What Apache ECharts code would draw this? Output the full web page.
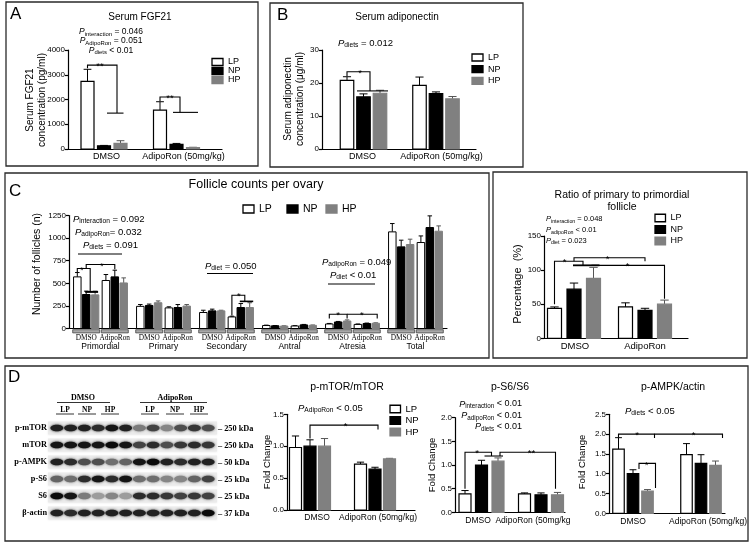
<!DOCTYPE html>
<html><head><meta charset="utf-8">
<script src="https://cdn.jsdelivr.net/npm/echarts@6/dist/echarts.min.js"></script>
<style>html,body{margin:0;padding:0;background:#fff}#c{width:750px;height:543px}</style>
</head><body><div id="c"></div>
<script>
// ================= DATA =================
const diets = ['LP', 'NP', 'HP'];
const treatCats = ['DMSO', 'AdipoRon (50mg/kg)'];
const treatCatsS6 = ['DMSO', 'AdipoRon (50mg/kg'];
const ratioCats = ['DMSO', 'AdipoRon'];
const follicleCats = ['Primordial', 'Primary', 'Secondary', 'Antral', 'Atresia', 'Total'];
const follicleSub = ['DMSO', 'AdipoRon'];

// tick labels
const fgfTicks = [0, 1000, 2000, 3000, 4000];
const adipoTicks = [0, 10, 20, 30];
const follTicks = [0, 250, 500, 750, 1000, 1250];
const ratioTicks = [0, 50, 100, 150];
const mtorTicks = [0, 0.5, 1.0, 1.5];
const s6Ticks = [0, 0.5, 1.0, 1.5, 2.0];
const ampkTicks = [0, 0.5, 1.0, 1.5, 2.0, 2.5];

// Panel A: serum FGF21 (pg/ml)
const fgf21LP = [2730, 1570], fgf21LPErr = [490, 340];
const fgf21NP = [130, 185], fgf21NPErr = [15, 40];
const fgf21HP = [225, 60], fgf21HPErr = [110, 10];
// Panel B: serum adiponectin (ug/ml)
const adipoLP = [20.8, 19.3], adipoLPErr = [1.1, 2.5];
const adipoNP = [15.8, 16.8], adipoNPErr = [0.9, 0.5];
const adipoHP = [16.9, 15.2], adipoHPErr = [0.9, 0.7];
// Panel C: follicle counts (6 classes x DMSO / AdipoRon)
const follLP = [571, 531, 245, 228, 177, 128, 33, 28, 50, 45, 1069, 951];
const follLPErr = [48, 66, 20, 12, 25, 8, 4, 3, 6, 5, 92, 73];
const follNP = [376, 571, 255, 232, 195, 232, 30, 40, 72, 55, 903, 1117];
const follNPErr = [37, 74, 15, 33, 19, 44, 3, 5, 6, 5, 74, 129];
const follHP = [372, 504, 285, 248, 195, 232, 27, 35, 83, 58, 929, 1076];
const follHPErr = [41, 56, 20, 17, 7, 53, 3, 4, 12, 5, 59, 59];
// Panel C: ratio primary / primordial (%)
const ratioLP = [44, 46], ratioLPErr = [2, 6];
const ratioNP = [72, 41], ratioNPErr = [9, 3];
const ratioHP = [88, 50], ratioHPErr = [16, 6];
// Panel D: fold changes
const mtorLP = [0.98, 0.72], mtorLPErr = [0.18, 0.03];
const mtorNP = [1.00, 0.64], mtorNPErr = [0.10, 0.03];
const mtorHP = [1.00, 0.80], mtorHPErr = [0.12, 0.01];
const s6LP = [0.39, 0.39], s6LPErr = [0.07, 0.02];
const s6NP = [1.00, 0.37], s6NPErr = [0.10, 0.04];
const s6HP = [1.08, 0.37], s6HPErr = [0.07, 0.05];
const ampkLP = [1.62, 1.48], ampkLPErr = [0.29, 0.28];
const ampkNP = [1.00, 1.26], ampkNPErr = [0.10, 0.22];
const ampkHP = [0.56, 1.21], ampkHPErr = [0.04, 0.11];

// Western blot (band darkness 0..1, 12 lanes)
const blotRows = ['p-mTOR', 'mTOR', 'p-AMPK', 'p-S6', 'S6', 'β-actin'];
const blotKDa = ['250 kDa', '250 kDa', '50 kDa', '25 kDa', '25 kDa', '37 kDa'];
const blotLanes = ['1', '2', '3', '4', '5', '6', '7', '8', '9', '10', '11', '12'];
const pmtorBand = [0.9, 0.9, 0.9, 0.85, 0.95, 0.9, 0.5, 0.75, 0.45, 0.7, 0.8, 0.7];
const mtorBand = [0.95, 0.95, 0.95, 0.95, 1, 0.95, 0.75, 0.85, 0.7, 0.8, 0.85, 0.8];
const pampkBand = [0.9, 0.85, 0.7, 0.7, 0.55, 0.6, 0.95, 1, 0.9, 0.85, 0.9, 0.9];
const ps6Band = [0.6, 0.55, 0.85, 0.95, 0.85, 0.95, 0.55, 0.55, 0.45, 0.45, 0.6, 0.75];
const s6Band = [1, 0.95, 0.5, 0.35, 0.45, 0.35, 0.85, 0.85, 0.8, 0.75, 0.8, 0.75];
const actinBand = [0.9, 0.85, 0.9, 0.9, 0.9, 0.9, 0.9, 0.9, 0.9, 0.9, 0.9, 1];

// ================= STYLE / LAYOUT =================
const F = '"Liberation Sans", Arial, Helvetica, sans-serif';
const SF = '"Liberation Serif", "Times New Roman", serif';
const FILL = ['#ffffff', '#000000', '#808080'];
const STROKE = ['#000000', '#000000', '#808080'];
const ERRC = ['#000000', '#000000', '#555555'];

const charts = [
  { rect: [68, 50, 154, 99], cats: treatCats, ticks: fgfTicks, step: 16.5, w: 13, shift: [-2.5, -7], lab: [0, 0], labM: 3, fs: 9,
    vals: [[fgf21LP, fgf21LPErr], [fgf21NP, fgf21NPErr], [fgf21HP, fgf21HPErr]],
    lines: [
      { p: [[0,0,0,0,3260],[0,0,0,0,3390],[0,0,2,-3.5,3390],[0,0,2,-3.5,1450]] },
      { p: [[0,0,1,3,1450],[0,0,2,3,1450]] },
      { p: [[1,0,0,0,1940],[1,0,0,0,2100],[1,0,1,3.5,2100],[1,0,1,3.5,1480]] },
      { p: [[1,0,1,-3.5,1480],[1,0,2,5,1480]] }],
    stars: [[[0,0,1,-4,3390], '**'], [[1,0,0,10,2100], '**']] },
  { rect: [322, 50, 154, 99], cats: treatCats, ticks: adipoTicks, step: 16.5, w: 13.5, shift: [3, -1.5], lab: [2, 4], labM: 3, fs: 9,
    vals: [[adipoLP, adipoLPErr], [adipoNP, adipoNPErr], [adipoHP, adipoHPErr]],
    lines: [
      { p: [[0,0,0,0,22.1],[0,0,0,0,23.4],[0,0,1,6.5,23.4],[0,0,1,6.5,17.6]] },
      { p: [[0,0,1,-6.5,17.6],[0,0,2,8,17.6]] }],
    stars: [[[0,0,0,13,23.4], '*']] },
  { rect: [69, 215.5, 378, 113], cats: follicleCats, ticks: follTicks, step: 8.9, w: 7.5, sub: 14.3, shift: [0,0,0,0,0,0], lab: [0,0,0,0,0,0], labM: 14, fs: 8.5,
    vals: [[follLP, follLPErr], [follNP, follNPErr], [follHP, follHPErr]],
    lines: [
      { p: [[0,0,0,0,625],[0,0,0,0,664],[0,0,1,4,664],[0,0,1,4,405]] },
      { p: [[0,0,1,-1,405],[0,0,2,3,405]], lw: 2 },
      { p: [[0,0,1,0,664],[0,0,1,0,708],[0,1,1,0,708],[0,1,1,0,655]] },
      { p: [[2,1,0,0,145],[2,1,0,0,368],[2,1,1,4,368],[2,1,1,4,300]] },
      { p: [[2,1,1,-1,300],[2,1,2,3.5,300]], lw: 1.6 },
      { p: [[4,0,0,0,110],[4,0,0,0,158],[4,0,2,0,158],[4,0,2,0,110]] },
      { p: [[4,0,2,0,158],[4,1,2,1.5,158],[4,1,2,1.5,110]] }],
    stars: [[[0,0,0,4.5,664], '*'], [[0,1,0,-4,708], '*'], [[2,1,1,-2,368], '*'], [[4,0,1,0,158], '*'], [[4,1,0,4,158], '*']] },
  { rect: [544, 236, 144, 102.3], cats: ratioCats, ticks: ratioTicks, step: 19.5, w: 14, shift: [-6, -7], lab: [-5, -7], labM: 3.5, fs: 9.5,
    vals: [[ratioLP, ratioLPErr], [ratioNP, ratioNPErr], [ratioHP, ratioHPErr]],
    lines: [
      { p: [[0,0,0,0,50],[0,0,0,0,113],[0,0,1,9,113],[0,0,1,9,107]] },
      { p: [[0,0,1,-1,107],[0,0,2,6,107]], lw: 1.8 },
      { p: [[0,0,1,0,113],[0,0,1,0,118],[1,0,1,0,118],[1,0,1,0,113]] },
      { p: [[0,0,2,-2,107],[1,0,2,0,107],[1,0,2,0,58]] }],
    stars: [[[0,0,0,10,113], '*'], [[0,0,2,14,118], '*'], [[1,0,0,2,107], '*']] },
  { rect: [287, 414.3, 128, 95.7], cats: treatCats, ticks: mtorTicks, dec: 1, step: 14.5, w: 12, shift: [-9, -8], lab: [-2, -5], labM: 3, fs: 8.5,
    vals: [[mtorLP, mtorLPErr], [mtorNP, mtorNPErr], [mtorHP, mtorHPErr]],
    lines: [{ p: [[0,0,1,0,1.12],[0,0,1,0,1.33],[1,0,1,3,1.33],[1,0,1,3,1.26]] }],
    stars: [[[0,0,2,21,1.33], '*']] },
  { rect: [455, 417.7, 110, 94.6], cats: treatCatsS6, ticks: s6Ticks, dec: 1, step: 16.5, w: 12, shift: [-1, 3.5], lab: [-4.5, -4.5], labM: 4, fs: 8.5,
    vals: [[s6LP, s6LPErr], [s6NP, s6NPErr], [s6HP, s6HPErr]],
    lines: [
      { p: [[0,0,0,0,0.5],[0,0,0,0,1.27],[0,0,1,10,1.27],[0,0,1,10,1.19]] },
      { p: [[0,0,1,3,1.19],[0,0,2,5,1.19]] },
      { p: [[0,0,2,2,1.19],[0,0,2,2,1.27],[1,0,2,-2,1.27],[1,0,2,-2,0.5]] }],
    stars: [[[0,0,0,12,1.27], '*'], [[1,0,0,7,1.27], '**']] },
  { rect: [609, 414.3, 116, 99], cats: treatCats, ticks: ampkTicks, dec: 1, step: 14.5, w: 11.5, shift: [-5, 5], lab: [-5, 12], labM: 4, fs: 8.5,
    vals: [[ampkLP, ampkLPErr], [ampkNP, ampkNPErr], [ampkHP, ampkHPErr]],
    lines: [
      { p: [[0,0,0,0,1.92],[0,0,0,0,2.0],[0,0,2,7,2.0],[0,0,2,7,1.9]] },
      { p: [[0,0,2,7,2.0],[1,0,2,7,2.0],[1,0,2,7,1.9]] },
      { p: [[0,0,1,6,1.12],[0,0,1,6,1.26],[0,0,2,8,1.26],[0,0,2,8,0.64]] }],
    stars: [[[0,0,1,4,2.0], '*'], [[1,0,0,7,2.0], '*'], [[0,0,2,-1,1.26], '*']] }
];

// ================= HELPERS =================
function barX(api, c, k, s, i) {
  const base = api.coord([k, 0])[0];
  return base + c.shift[k] + (c.sub ? (s ? c.sub : -c.sub) : 0) + (i - 1) * c.step;
}
function seg(x1, y1, x2, y2, col, lw) {
  return { type: 'line', shape: { x1, y1, x2, y2 }, style: { stroke: col, lineWidth: lw } };
}
function makeBarRender(c, i) {
  return function (params, api) {
    const k = api.value(0), v = api.value(1), e = api.value(2);
    const s = c.sub ? api.value(3) : 0;
    const cx = barX(api, c, k, s, i);
    const y0 = api.coord([k, 0])[1], y1 = api.coord([k, v])[1], ye = api.coord([k, v + e])[1];
    const cap = c.w * 0.3;
    const ch = [];
    if (e > 0) {
      ch.push(seg(cx, y1, cx, ye, ERRC[i], 1));
      ch.push(seg(cx - cap, ye, cx + cap, ye, ERRC[i], 1));
    }
    ch.push({ type: 'rect', shape: { x: cx - c.w / 2, y: y1, width: c.w, height: y0 - y1 },
      style: { fill: FILL[i], stroke: STROKE[i], lineWidth: c.sub ? 1 : 1.2 } });
    return { type: 'group', children: ch };
  };
}
function makeAnnotRender(c) {
  return function (params, api) {
    const pt = (p) => [barX(api, c, p[0], p[1], p[2]) + p[3], api.coord([p[0], p[4]])[1]];
    const ch = [];
    c.lines.forEach(l => ch.push({ type: 'polyline', shape: { points: l.p.map(pt) },
      style: { stroke: '#000', lineWidth: l.lw || 1.1, fill: null } }));
    c.stars.forEach(st => {
      const q = pt(st[0]);
      ch.push({ type: 'text', x: q[0], y: q[1] + 1.5,
        style: { text: st[1], fontSize: 9.5, fontFamily: F, fill: '#000', align: 'center', textAlign: 'center', verticalAlign: 'middle', textVerticalAlign: 'middle' } });
    });
    return { type: 'group', children: ch };
  };
}
function txt(x, y, text, size, o) {
  o = o || {};
  return { type: 'text', x, y, rotation: o.rot || 0, z: 10,
    style: { text, fontSize: size, fontFamily: o.font || F, fontWeight: o.bold ? 'bold' : 'normal', fill: '#000',
      align: o.align || 'left', textAlign: o.align || 'left', verticalAlign: 'middle', textVerticalAlign: 'middle' } };
}
function ptxt(x, y, sub, rest, size, align) {
  return { type: 'text', x, y, z: 10,
    style: { text: '{p|P}{s|' + sub + '}{t|' + rest + '}', fontFamily: F, fill: '#000',
      align: align || 'left', textAlign: align || 'left', verticalAlign: 'middle', textVerticalAlign: 'middle',
      rich: {
        p: { fontSize: size, fontStyle: 'italic', fontFamily: F, fill: '#000', lineHeight: size + 2, verticalAlign: 'middle' },
        s: { fontSize: size * 0.7, fontFamily: F, fill: '#000', lineHeight: size * 0.7, verticalAlign: 'bottom' },
        t: { fontSize: size, fontFamily: F, fill: '#000', lineHeight: size + 2, verticalAlign: 'middle' } } } };
}
function hline(x1, x2, y, lw) { return { type: 'line', z: 10, shape: { x1, y1: y, x2, y2: y }, style: { stroke: '#000', lineWidth: lw || 1 } }; }
function frame(x1, y1, x2, y2) {
  return { type: 'rect', z: 1, shape: { x: x1, y: y1, width: x2 - x1, height: y2 - y1 }, style: { fill: 'none', stroke: '#2a2a2a', lineWidth: 1.3 } };
}
function legend(x, y0, dy, w, h, fs, horizontal) {
  const out = [];
  diets.forEach((d, i) => {
    const lx = horizontal ? x[i] : x, ly = horizontal ? y0 : y0 + i * dy;
    out.push({ type: 'rect', z: 10, shape: { x: lx, y: ly - h / 2, width: w, height: h },
      style: { fill: FILL[i], stroke: STROKE[i], lineWidth: 1.3 } });
    out.push(txt(lx + w + 5, ly, d, fs));
  });
  return out;
}

// ================= OPTION =================
const option = { animation: false, backgroundColor: '#ffffff', grid: [], xAxis: [], yAxis: [], series: [], graphic: { elements: [] } };
const axisLS = { color: '#000', width: 1.2 };

charts.forEach((c, gi) => {
  option.grid.push({ left: c.rect[0], top: c.rect[1], width: c.rect[2], height: c.rect[3], containLabel: false });
  const rich = {};
  c.lab.forEach((s, idx) => {
    rich['c' + idx] = { fontSize: c.fs, fontFamily: F, color: '#000', padding: s >= 0 ? [0, 0, 0, 2 * s] : [0, -2 * s, 0, 0] };
  });
  option.xAxis.push({ type: 'category', gridIndex: gi, data: c.cats, boundaryGap: true,
    axisLine: { show: true, onZero: false, lineStyle: axisLS }, axisTick: { show: false }, splitLine: { show: false },
    axisLabel: { interval: 0, margin: c.labM, fontSize: c.fs, fontFamily: F, color: '#000',
      formatter: (v, idx) => '{c' + idx + '|' + v + '}', rich } });
  const t = c.ticks;
  option.yAxis.push({ type: 'value', gridIndex: gi, min: t[0], max: t[t.length - 1], interval: t[1] - t[0],
    axisLine: { show: true, lineStyle: axisLS }, axisTick: { show: true, length: 3, lineStyle: axisLS },
    splitLine: { show: false },
    axisLabel: { fontSize: 8, fontFamily: F, color: '#000', margin: 3,
      formatter: c.dec ? (v => v.toFixed(c.dec)) : (v => String(v)) } });
  c.vals.forEach((pair, i) => {
    const vals = pair[0], errs = pair[1];
    const data = vals.map((v, j) => c.sub ? [Math.floor(j / 2), v, errs[j], j % 2] : [j, v, errs[j]]);
    option.series.push({ type: 'custom', name: diets[i], xAxisIndex: gi, yAxisIndex: gi, clip: false,
      renderItem: makeBarRender(c, i), data, encode: { x: 0, y: 1 }, silent: true });
  });
  option.series.push({ type: 'custom', xAxisIndex: gi, yAxisIndex: gi, clip: false, silent: true, z: 5,
    renderItem: makeAnnotRender(c), data: [[0, 0]], encode: { x: 0, y: 1 } });
  if (c.sub) {
    const subData = [];
    c.cats.forEach((_, g) => { subData.push([g, 0, 0], [g, 0, 1]); });
    option.series.push({ type: 'custom', xAxisIndex: gi, yAxisIndex: gi, clip: false, silent: true,
      data: subData, encode: { x: 0, y: 1 },
      renderItem: function (params, api) {
        const g = api.value(0), s = api.value(2);
        const cx = barX(api, c, g, s, 1), y0 = api.coord([g, 0])[1];
        return { type: 'group', children: [
          { type: 'rect', shape: { x: cx - 13.5, y: y0 + 1.2, width: 27, height: 3.2 }, style: { fill: '#a8a8a8', stroke: '#333', lineWidth: 0.7 } },
          { type: 'text', x: cx, y: y0 + 10, style: { text: follicleSub[s], fontSize: 7.3, fontFamily: SF, fill: '#000',
            align: 'center', textAlign: 'center', verticalAlign: 'middle', textVerticalAlign: 'middle' } }] };
      } });
  }
});

// Western blot grid
const blotGi = charts.length;
const blotRect = [50, 419.5, 165, 102];
option.grid.push({ left: blotRect[0], top: blotRect[1], width: blotRect[2], height: blotRect[3] });
option.xAxis.push({ type: 'category', gridIndex: blotGi, data: blotLanes, show: false });
option.yAxis.push({ type: 'category', gridIndex: blotGi, data: blotRows, inverse: true, show: false });
const bandRows = [pmtorBand, mtorBand, pampkBand, ps6Band, s6Band, actinBand];
option.series.push({ type: 'custom', xAxisIndex: blotGi, yAxisIndex: blotGi, silent: true, clip: false,
  data: blotRows.map((_, r) => [0, r]), encode: { x: 0, y: 1 },
  renderItem: function (params, api) {
    const r = api.value(1), p = api.coord([0, r]), bw = api.size([1, 1])[0];
    return { type: 'rect', shape: { x: p[0] - bw / 2 - 2, y: p[1] - 6.5, width: bw * blotLanes.length + 4, height: 13 },
      style: { fill: '#ebebeb', shadowBlur: 2, shadowColor: '#ebebeb' } };
  } });
const bandData = [];
bandRows.forEach((row, r) => row.forEach((v, l) => bandData.push([l, r, v])));
option.series.push({ type: 'custom', xAxisIndex: blotGi, yAxisIndex: blotGi, silent: true, clip: false,
  data: bandData, encode: { x: 0, y: 1 },
  renderItem: function (params, api) {
    const p = api.coord([api.value(0), api.value(1)]), v = api.value(2), bw = api.size([1, 1])[0];
    const g = Math.round(235 - 225 * v), col = 'rgb(' + g + ',' + g + ',' + g + ')';
    return { type: 'ellipse', shape: { cx: p[0], cy: p[1], rx: bw * 0.47, ry: 3.2 },
      style: { fill: col, shadowBlur: 2.5, shadowColor: col } };
  } });

// ================= TEXT / FRAMES =================
const G = option.graphic.elements;
G.push(frame(6, 2, 258, 166), frame(270, 3, 523, 167), frame(5, 173, 489, 358), frame(493, 172, 747, 358), frame(5, 366, 748, 541));
// Panel labels
G.push(txt(10, 14, 'A', 17), txt(277, 15, 'B', 17), txt(9, 191, 'C', 17), txt(8, 377, 'D', 17));
// A
G.push(txt(140, 17, 'Serum FGF21', 10, { align: 'center' }));
G.push(ptxt(111, 32, 'interaction', ' = 0.046', 8.5, 'center'), ptxt(111, 41, 'AdipoRon', ' = 0.051', 8.5, 'center'), ptxt(111, 50.5, 'diets', ' < 0.01', 8.5, 'center'));
G.push(txt(30, 100, 'Serum FGF21', 10, { align: 'center', rot: Math.PI / 2 }), txt(42, 100, 'concentration (pg/ml)', 10, { align: 'center', rot: Math.PI / 2 }));
G.push(...legend(212, 62, 9, 11, 7, 9));
// B
G.push(txt(397, 17, 'Serum adiponectin', 10, { align: 'center' }));
G.push(ptxt(338, 43, 'diets', ' = 0.012', 9.5, 'left'));
G.push(txt(288, 99, 'Serum adiponectin', 10, { align: 'center', rot: Math.PI / 2 }), txt(300, 99, 'concentration (μg/ml)', 10, { align: 'center', rot: Math.PI / 2 }));
G.push(...legend(472, 57.5, 11.7, 11, 7, 9));
// C left
G.push(txt(256, 185, 'Follicle counts per ovary', 12.5, { align: 'center' }));
G.push(...legend([243, 287, 326], 209, 0, 11, 8, 10.5, true));
G.push(ptxt(73, 219, 'interaction', ' = 0.092', 9.5), ptxt(75, 232, 'adipoRon', '= 0.032', 9.5), ptxt(83, 245, 'diets', ' = 0.091', 9.5));
G.push(hline(78, 122, 254));
G.push(ptxt(205, 266, 'diet', ' = 0.050', 9.5), hline(207, 253, 273.5));
G.push(ptxt(322, 262, 'adipoRon', ' = 0.049', 9.5), ptxt(330, 275, 'diet', ' < 0.01', 9.5), hline(328, 375, 284));
G.push(txt(37, 264, 'Number of follicles (n)', 10.5, { align: 'center', rot: Math.PI / 2 }));
// C right
G.push(txt(622, 195, 'Ratio of primary to primordial', 10.5, { align: 'center' }), txt(622, 207, 'follicle', 10.5, { align: 'center' }));
G.push(ptxt(546, 219, 'interaction', ' = 0.048', 7.5), ptxt(546, 230, 'adipoRon', ' < 0.01', 7.5), ptxt(546, 240.5, 'diet', ' = 0.023', 7.5));
G.push(...legend(655, 218, 11.5, 10.5, 7.5, 9));
G.push(txt(518, 284, 'Percentage  (%)', 11, { align: 'center', rot: Math.PI / 2 }));
// D charts
G.push(txt(347, 387, 'p-mTOR/mTOR', 10.5, { align: 'center' }), ptxt(298, 408, 'AdipoRon', ' < 0.05', 9.5));
G.push(...legend(390, 409, 11.5, 10.5, 7.5, 9.5));
G.push(txt(267, 462, 'Fold Change', 9.5, { align: 'center', rot: Math.PI / 2 }));
G.push(txt(510, 387, 'p-S6/S6', 10.5, { align: 'center' }));
G.push(ptxt(522, 404, 'interaction', ' < 0.01', 9, 'right'), ptxt(522, 415.5, 'adipoRon', ' < 0.01', 9, 'right'), ptxt(522, 426.5, 'diets', ' < 0.01', 9, 'right'));
G.push(txt(432, 465, 'Fold Change', 9.5, { align: 'center', rot: Math.PI / 2 }));
G.push(txt(673, 387, 'p-AMPK/actin', 10.5, { align: 'center' }), ptxt(625, 411, 'diets', ' < 0.05', 9.5));
G.push(txt(582, 462, 'Fold Change', 9.5, { align: 'center', rot: Math.PI / 2 }));
// Blot headers & labels
const bOpt = { font: SF, bold: true, align: 'center' };
G.push(txt(83, 398, 'DMSO', 8, bOpt), hline(57, 110, 402.5, 0.8), txt(175, 398, 'AdipoRon', 8, bOpt), hline(140, 207, 402.5, 0.8));
[[65, 'LP'], [87, 'NP'], [110, 'HP'], [150, 'LP'], [175, 'NP'], [199, 'HP']].forEach(a => {
  G.push(txt(a[0], 410, a[1], 7.5, bOpt), hline(a[0] - 9, a[0] + 9, 414, 0.8));
});
const rowH = blotRect[3] / blotRows.length;
blotRows.forEach((r, i) => {
  const y = blotRect[1] + rowH * (i + 0.5);
  G.push(txt(47, y, r, 8.3, { font: SF, bold: true, align: 'right' }));
  G.push(txt(218, y + 1, '– ' + blotKDa[i], 8.3, { font: SF, bold: true }));
});

const chart = echarts.init(document.getElementById('c'), null, { renderer: 'canvas' });
chart.setOption(option);
</script>
</body></html>
